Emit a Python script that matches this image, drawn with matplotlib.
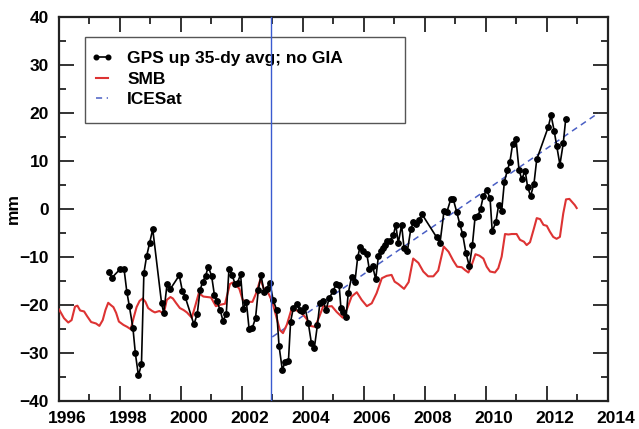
import matplotlib
matplotlib.use("Agg")
import matplotlib.pyplot as plt
import matplotlib.transforms as mtransforms
from matplotlib.ticker import MultipleLocator
from matplotlib.patches import Rectangle

plt.rcParams['font.family'] = ['Liberation Sans', 'DejaVu Sans']

# GPS up, 35-day averages (year, mm)
gps_year = [1997.65, 1997.74, 1998.01, 1998.14, 1998.23, 1998.31, 1998.43, 1998.51, 1998.61, 1998.71,
            1998.79, 1998.88, 1998.98, 1999.08, 1999.37, 1999.44, 1999.55, 1999.66, 1999.95, 2000.05,
            2000.14, 2000.43, 2000.54, 2000.63, 2000.72, 2000.81, 2000.90, 2001.01, 2001.10, 2001.18,
            2001.29, 2001.38, 2001.49, 2001.58, 2001.68, 2001.78, 2001.86, 2001.96, 2002.05, 2002.15,
            2002.24, 2002.34, 2002.45, 2002.54, 2002.63, 2002.73, 2002.81, 2002.92, 2003.03, 2003.14,
            2003.22, 2003.33, 2003.41, 2003.53, 2003.60, 2003.69, 2003.80, 2003.91, 2003.99, 2004.07,
            2004.18, 2004.28, 2004.38, 2004.48, 2004.56, 2004.67, 2004.76, 2004.86, 2005.00, 2005.09,
            2005.19, 2005.25, 2005.33, 2005.42, 2005.49, 2005.60, 2005.71, 2005.80, 2005.88, 2005.98,
            2006.10, 2006.18, 2006.29, 2006.39, 2006.48, 2006.55, 2006.62, 2006.70, 2006.77, 2006.86,
            2006.97, 2007.05, 2007.13, 2007.24, 2007.32, 2007.43, 2007.54, 2007.62, 2007.71, 2007.82,
            2007.91, 2008.39, 2008.50, 2008.63, 2008.72, 2008.85, 2008.93, 2009.05, 2009.15, 2009.24,
            2009.35, 2009.46, 2009.56, 2009.65, 2009.74, 2009.83, 2009.92, 2010.03, 2010.14, 2010.21,
            2010.33, 2010.42, 2010.52, 2010.61, 2010.71, 2010.79, 2010.88, 2010.99, 2011.09, 2011.18,
            2011.29, 2011.37, 2011.47, 2011.58, 2011.67, 2012.05, 2012.14, 2012.24, 2012.33, 2012.43,
            2012.54, 2012.62]
gps_mm = [-13.2, -14.3, -12.5, -12.5, -17.2, -20.1, -24.7, -30.0, -34.6, -32.3,
          -13.3, -9.8, -7.0, -4.2, -19.6, -21.6, -15.6, -16.6, -13.8, -17.0,
          -18.2, -24.0, -21.8, -16.9, -15.1, -14.0, -12.0, -13.9, -17.8, -19.1,
          -21.0, -23.2, -21.9, -12.4, -13.7, -15.6, -15.3, -13.6, -20.8, -19.3,
          -25.0, -24.8, -22.7, -16.9, -13.7, -17.3, -16.6, -15.3, -19.0, -20.9,
          -28.4, -33.5, -31.9, -31.5, -23.4, -20.6, -19.8, -20.9, -21.2, -20.4,
          -23.7, -27.8, -28.8, -24.1, -19.5, -19.1, -21.1, -18.6, -17.0, -15.6,
          -15.7, -20.6, -21.4, -22.4, -17.5, -14.1, -15.1, -10.0, -7.8, -8.7,
          -9.4, -12.5, -11.9, -14.6, -9.8, -8.7, -8.2, -7.5, -6.7, -6.6,
          -5.4, -3.3, -7.1, -3.3, -8.2, -8.7, -4.2, -2.8, -3.2, -2.3,
          -1.1, -5.9, -7.0, -0.4, -0.7, 2.0, 2.1, -0.7, -3.2, -5.2,
          -9.2, -11.9, -7.5, -1.6, -1.5, 0.1, 2.7, 4.0, 2.2, -4.6,
          -2.8, 0.8, -0.4, 5.7, 8.1, 9.8, 13.5, 14.5, 8.1, 6.2,
          8.0, 4.6, 2.7, 5.3, 10.3, 17.1, 19.5, 16.3, 13.0, 9.2,
          13.7, 18.7]

# Surface mass balance (year, mm)
smb_year = [1996.01, 1996.17, 1996.31, 1996.42, 1996.53, 1996.61, 1996.70, 1996.83, 1996.93, 1997.06,
            1997.22, 1997.33, 1997.44, 1997.53, 1997.62, 1997.71, 1997.79, 1997.88, 1997.97, 1998.12,
            1998.24, 1998.36, 1998.45, 1998.55, 1998.65, 1998.75, 1998.84, 1998.93, 1999.06, 1999.15,
            1999.30, 1999.44, 1999.54, 1999.66, 1999.74, 1999.84, 1999.97, 2000.09, 2000.20, 2000.36,
            2000.48, 2000.59, 2000.74, 2000.86, 2000.99, 2001.15, 2001.30, 2001.45, 2001.61, 2001.70,
            2001.81, 2001.92, 2002.03, 2002.16, 2002.35, 2002.47, 2002.61, 2002.73, 2002.87, 2003.00,
            2003.09, 2003.25, 2003.35, 2003.48, 2003.64, 2003.80, 2003.96, 2004.12, 2004.24, 2004.40,
            2004.54, 2004.67, 2004.78, 2004.95, 2005.11, 2005.31, 2005.46, 2005.60, 2005.77, 2005.93,
            2006.10, 2006.26, 2006.42, 2006.59, 2006.75, 2006.91, 2007.01, 2007.13, 2007.32, 2007.47,
            2007.62, 2007.79, 2007.95, 2008.11, 2008.28, 2008.44, 2008.62, 2008.78, 2008.93, 2009.06,
            2009.21, 2009.32, 2009.43, 2009.54, 2009.66, 2009.79, 2009.92, 2010.03, 2010.14, 2010.30,
            2010.41, 2010.52, 2010.63, 2010.74, 2010.85, 2011.01, 2011.12, 2011.25, 2011.34, 2011.45,
            2011.58, 2011.67, 2011.78, 2011.89, 2012.00, 2012.10, 2012.21, 2012.32, 2012.43, 2012.54,
            2012.63, 2012.74, 2012.85, 2012.92, 2012.98]
smb_mm = [-20.9, -22.7, -23.6, -23.1, -20.3, -20.1, -21.1, -21.3, -22.3, -23.5,
          -23.8, -24.3, -23.1, -21.0, -19.5, -20.0, -20.4, -21.6, -23.4, -24.1,
          -24.5, -25.0, -22.7, -20.4, -19.1, -18.6, -19.3, -20.6, -21.2, -21.5,
          -21.2, -21.8, -18.9, -18.3, -18.6, -19.5, -20.6, -21.0, -21.5, -22.6,
          -20.0, -17.5, -18.2, -18.3, -18.4, -20.2, -19.9, -19.7, -15.6, -15.3,
          -15.8, -16.6, -18.9, -19.3, -19.3, -17.5, -14.6, -16.7, -17.5, -19.3,
          -21.4, -25.2, -25.8, -24.0, -20.6, -21.1, -21.6, -22.8, -24.3, -24.5,
          -22.4, -20.2, -20.3, -20.2, -21.4, -22.6, -20.6, -18.2, -17.3, -18.9,
          -20.2, -19.6, -17.5, -14.4, -13.9, -13.7, -15.1, -15.6, -16.6, -15.2,
          -10.3, -11.2, -13.0, -14.0, -14.0, -12.8, -7.8, -8.9, -10.7, -12.0,
          -12.1, -12.7, -13.2, -11.6, -9.4, -9.7, -10.3, -12.0, -13.0, -13.2,
          -12.3, -9.9, -5.2, -5.3, -5.2, -5.2, -6.4, -6.8, -7.5, -6.9,
          -4.0, -1.9, -2.1, -3.3, -3.5, -4.7, -5.8, -6.2, -5.8, -0.9,
          2.0, 2.1, 1.3, 0.8, 0.2]

# ICESat trend line endpoints (year, mm)
icesat_year = [2003.0, 2013.7]
icesat_mm = [-26.6, 20.0]

# vertical marker (year)
marker_year = 2002.97

xticks = [1996, 1998, 2000, 2002, 2004, 2006, 2008, 2010, 2012, 2014]
yticks = [-40, -30, -20, -10, 0, 10, 20, 30, 40]

fig = plt.figure(figsize=(6.39, 4.29), dpi=100)
ax = fig.add_axes([58.8 / 639, 1 - 401.4 / 429, 549 / 639, 384.8 / 429])

red = '#dd3333'
blue_dash = '#4a5fc4'
blue_v = '#3a5bd0'

ax.axvline(marker_year, color=blue_v, lw=1.0, zorder=7)
l_ice, = ax.plot(icesat_year, icesat_mm, color=blue_dash, lw=1.1, ls=(0, (4, 3)), zorder=2,
                 label='ICESat')
l_smb, = ax.plot(smb_year, smb_mm, color=red, lw=1.5, zorder=3, label='SMB')
l_gps, = ax.plot(gps_year, gps_mm, color='black', lw=1.2, marker='o', ms=3.9, zorder=4,
                 label='GPS up 35-dy avg; no GIA')

ax.set_xlim(1996, 2014)
ax.set_ylim(-40, 40)
ax.set_xticks(xticks)
ax.set_yticks(yticks)
ax.xaxis.set_minor_locator(MultipleLocator(1))
ax.yaxis.set_minor_locator(MultipleLocator(5))
ax.tick_params(which='both', direction='in', top=True, right=True, width=1.3, color='#222222')
ax.tick_params(which='major', length=10.5, pad=7, labelsize=12.5)
ax.tick_params(which='minor', length=5)
for lab in ax.get_xticklabels() + ax.get_yticklabels():
    lab.set_fontweight('bold')
offset = mtransforms.ScaledTranslation(8 / 100, 0, fig.dpi_scale_trans)
for lab in ax.get_xticklabels():
    lab.set_transform(lab.get_transform() + offset)
for sp in ax.spines.values():
    sp.set_linewidth(1.6)
    sp.set_color('#222222')

ax.set_ylabel('mm', fontsize=12.5, fontweight='bold')
ax.yaxis.set_label_coords(-0.069, 0.5)

# legend frame
ax.add_patch(Rectangle((0.0477, 0.7235), 0.5829, 0.2235, transform=ax.transAxes,
                       fill=True, facecolor='white', edgecolor='#555555', lw=1.0, zorder=5))
leg = ax.legend(handles=[l_gps, l_smb, l_ice], loc='upper left', bbox_to_anchor=(0.052, 0.919),
                frameon=False, numpoints=2, markerscale=0.85, handlelength=1.3, handletextpad=0.8,
                labelspacing=0.3, borderpad=0.2, borderaxespad=0,
                prop={'weight': 'bold', 'size': 12.5, 'family': 'Liberation Sans'})
leg.set_zorder(6)

fig.savefig('out.png', dpi=100)
